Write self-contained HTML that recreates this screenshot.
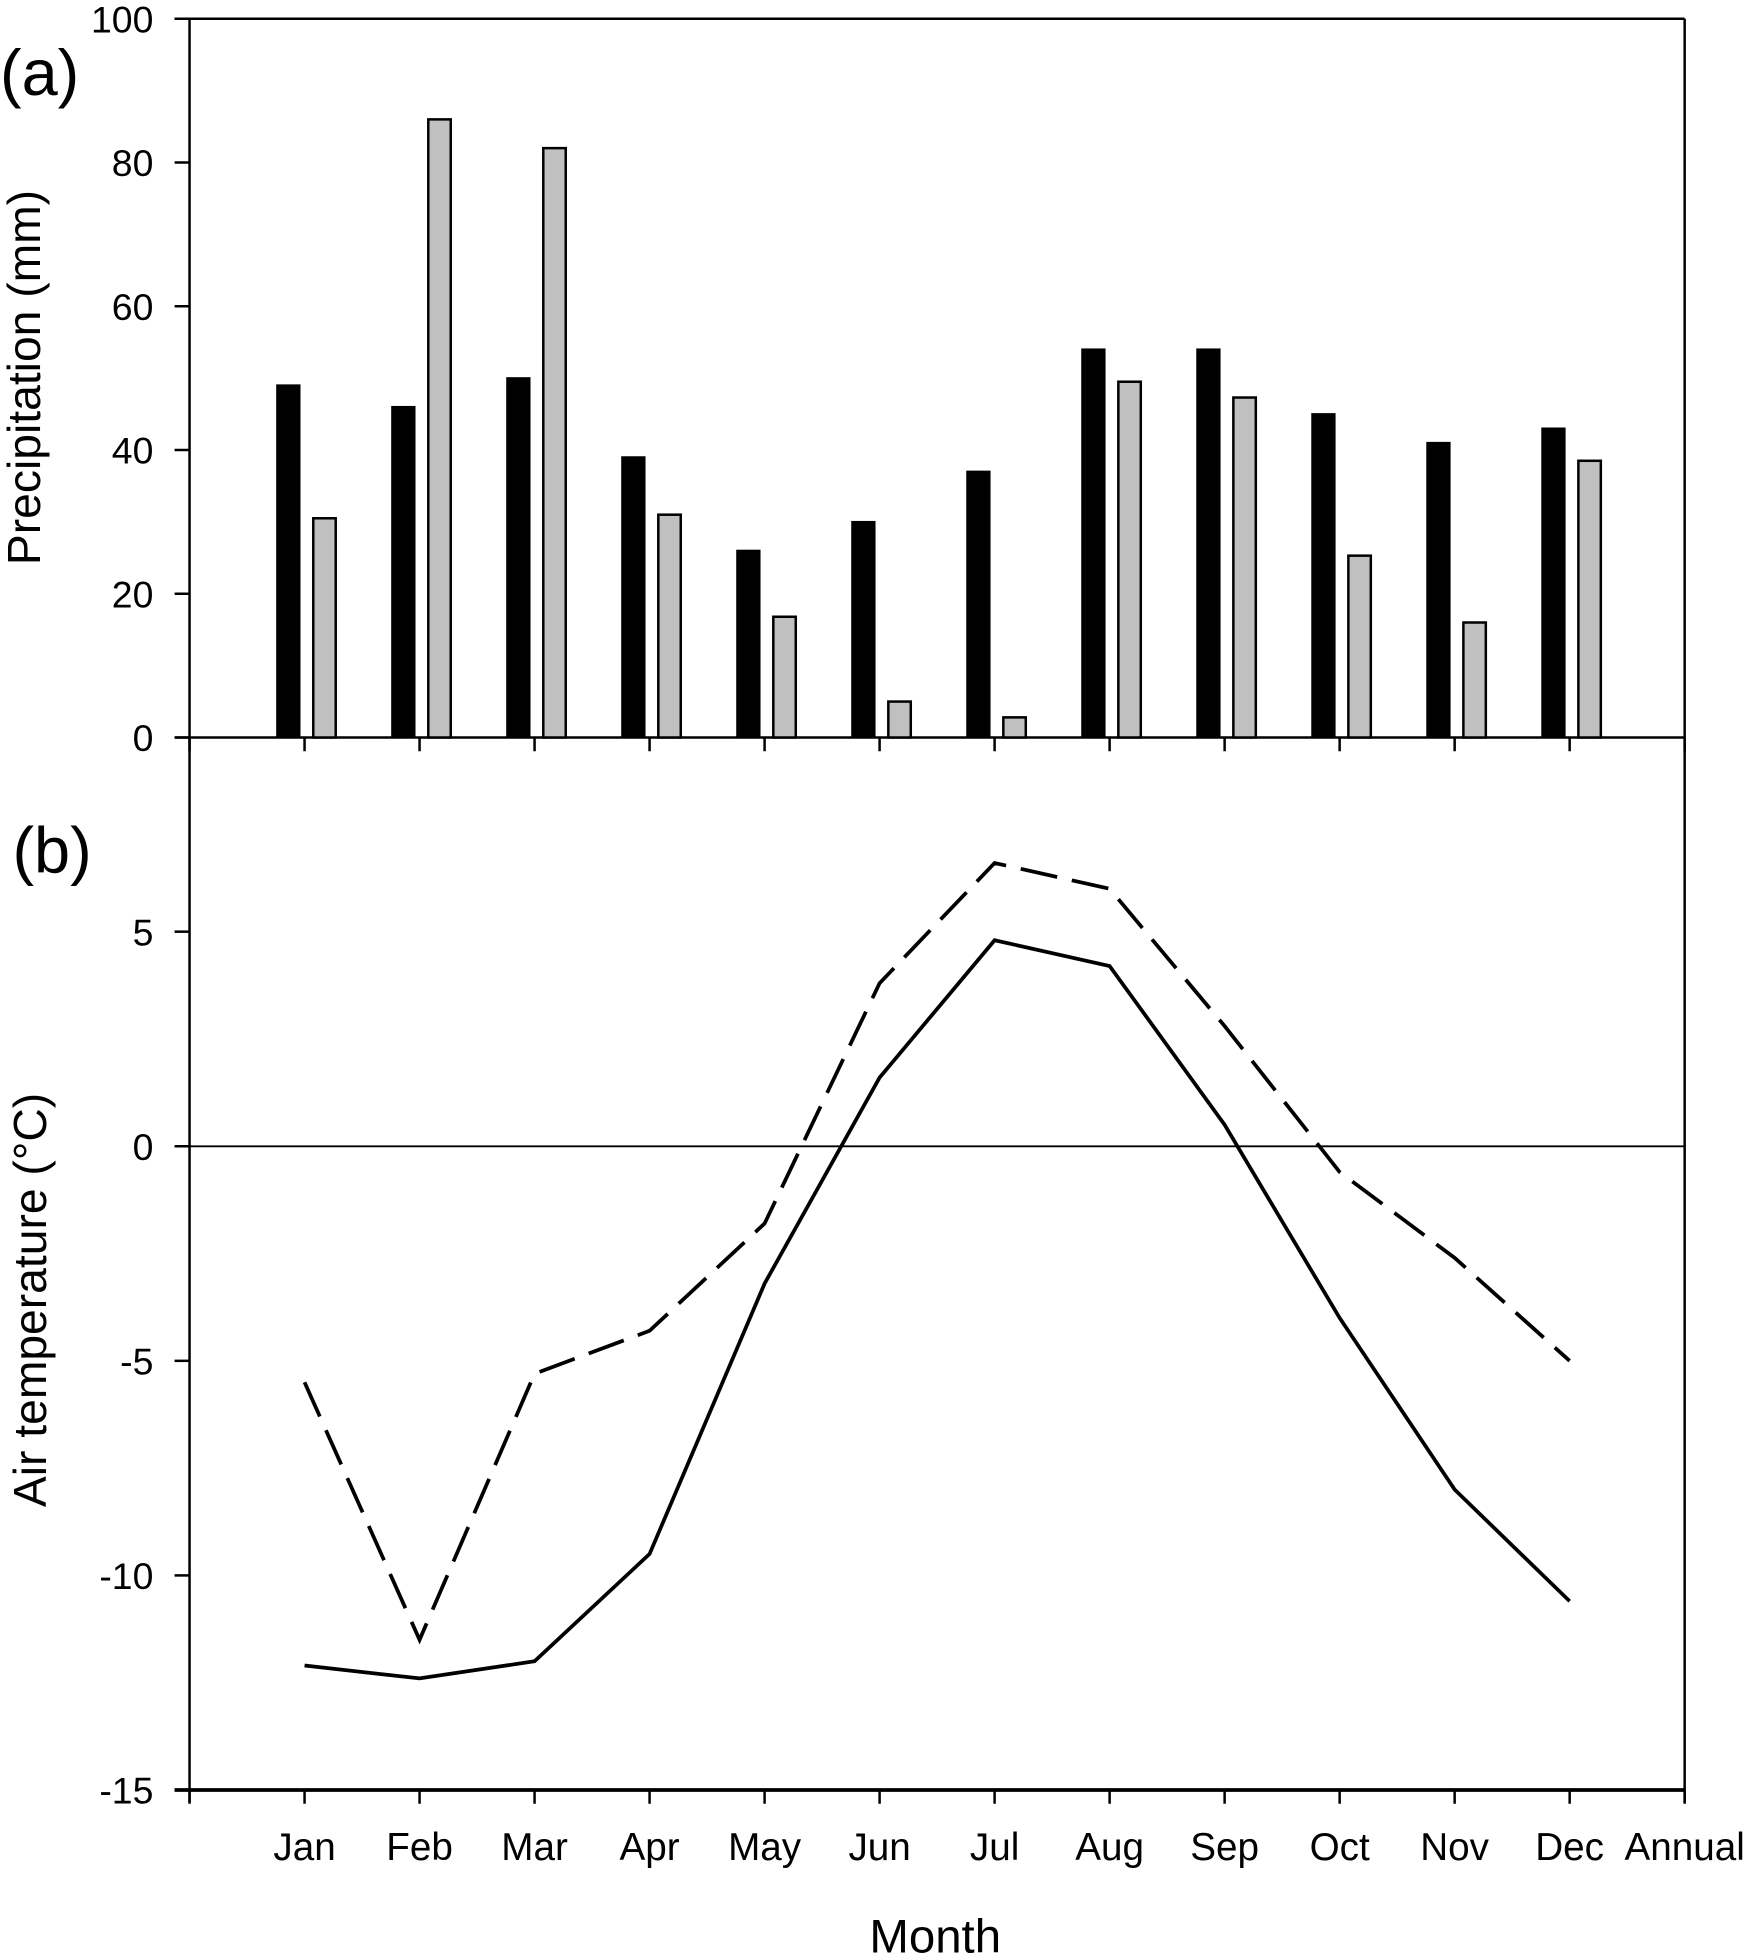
<!DOCTYPE html>
<html><head><meta charset="utf-8"><style>
html,body{margin:0;padding:0;background:#fff;}
svg{display:block;}
text{font-family:"Liberation Sans",Arial,sans-serif;fill:#000;}
</style></head><body>
<svg id="chart" width="1752" height="1960" viewBox="0 0 1405 1568" preserveAspectRatio="none" xmlns="http://www.w3.org/2000/svg">
<g id="g"></g>
</svg>
<script>
const months = ["Jan","Feb","Mar","Apr","May","Jun","Jul","Aug","Sep","Oct","Nov","Dec","Annual"];
const precipA = [49,46,50,39,26,30,37,54,54,45,41,43];
const precipB = [30.5,86,82,31,16.8,5,2.8,49.5,47.3,25.3,16,38.5];
const tempSolid = [-12.1,-12.4,-12.0,-9.5,-3.2,1.6,4.8,4.2,0.5,-4.0,-8.0,-10.6];
const tempDashed = [-5.5,-11.5,-5.3,-4.3,-1.8,3.8,6.6,6.0,2.8,-0.6,-2.6,-5.0];
const precipTicks = [0,20,40,60,80,100];
const tempTicks = [-15,-10,-5,0,5];

const NS="http://www.w3.org/2000/svg";
const g=document.getElementById('g');
const L=152,R=1351,TA=15,BA=590,BB=1432;
const xCat=i=>L+(i+1)*(R-L)/13;
const yP=v=>BA-(v/100)*(BA-TA);
const yT=v=>917-v*(1432-917)/15;
function el(tag,attrs,txt){const e=document.createElementNS(NS,tag);for(const k in attrs)e.setAttribute(k,attrs[k]);if(txt!==undefined)e.textContent=txt;g.appendChild(e);return e;}

let e;
e=el('line',{x1:140,y1:TA,x2:R,y2:TA,stroke:'#000','stroke-width':2});


e=el('line',{x1:L,y1:TA,x2:L,y2:BB+10,stroke:'#000','stroke-width':2});


e=el('line',{x1:R,y1:TA,x2:R,y2:BB+10,stroke:'#000','stroke-width':2});


e=el('line',{x1:140,y1:BA,x2:R,y2:BA,stroke:'#000','stroke-width':2});


e=el('line',{x1:140,y1:BB,x2:R,y2:BB,stroke:'#000','stroke-width':3});


e=el('line',{x1:140,y1:yT(0),x2:R,y2:yT(0),stroke:'#000','stroke-width':1.5});



for(let i=-1;i<13;i++){
  const x=xCat(i);
  e=el('line',{x1:x,y1:BA,x2:x,y2:BA+11,stroke:'#000','stroke-width':2});
  
  
  e=el('line',{x1:x,y1:BB,x2:x,y2:BB+11,stroke:'#000','stroke-width':2});
  
  
}
months.forEach((m,i)=>{
  e=el('text',{x:xCat(i),y:1488,'font-size':31,'text-anchor':'middle'},m);
  
  
});

precipTicks.forEach(v=>{
  e=el('line',{x1:140,y1:yP(v),x2:L,y2:yP(v),stroke:'#000','stroke-width':2});
  
  
  e=el('text',{x:123,y:yP(v)+11,'font-size':30,'text-anchor':'end'},String(v));
  
  
});
tempTicks.forEach(v=>{
  e=el('line',{x1:140,y1:yT(v),x2:L,y2:yT(v),stroke:'#000','stroke-width':2});
  
  
  e=el('text',{x:123,y:yT(v)+11,'font-size':30,'text-anchor':'end'},String(v));
  
  
});

precipA.forEach((v,i)=>{
  const c=xCat(i);
  e=el('rect',{x:c-22,y:yP(v),width:18,height:BA-yP(v),fill:'#000',stroke:'#000','stroke-width':1.5});
  
  
});
precipB.forEach((v,i)=>{
  const c=xCat(i);
  e=el('rect',{x:c+7,y:yP(v),width:18,height:BA-yP(v),fill:'#c0c0c0',stroke:'#000','stroke-width':2});
  
  
});

const pts=a=>a.map((v,i)=>xCat(i)+','+yT(v)).join(' ');
e=el('polyline',{points:pts(tempDashed),fill:'none',stroke:'#000','stroke-width':3,'stroke-dasharray':'30,12'});


e=el('polyline',{points:pts(tempSolid),fill:'none',stroke:'#000','stroke-width':3});



e=el('text',{x:0,y:76,'font-size':52},'(a)');


e=el('text',{x:10,y:698,'font-size':52},'(b)');


e=el('text',{x:0,y:0,'font-size':37,'text-anchor':'middle',transform:'translate(32,302) rotate(-90)'},'Precipitation (mm)');


e=el('text',{x:0,y:0,'font-size':37,'text-anchor':'middle',transform:'translate(37,1040) rotate(-90)'},'Air temperature (°C)');


e=el('text',{x:750,y:1562,'font-size':38,'text-anchor':'middle'},'Month');


</script>
</body></html>
